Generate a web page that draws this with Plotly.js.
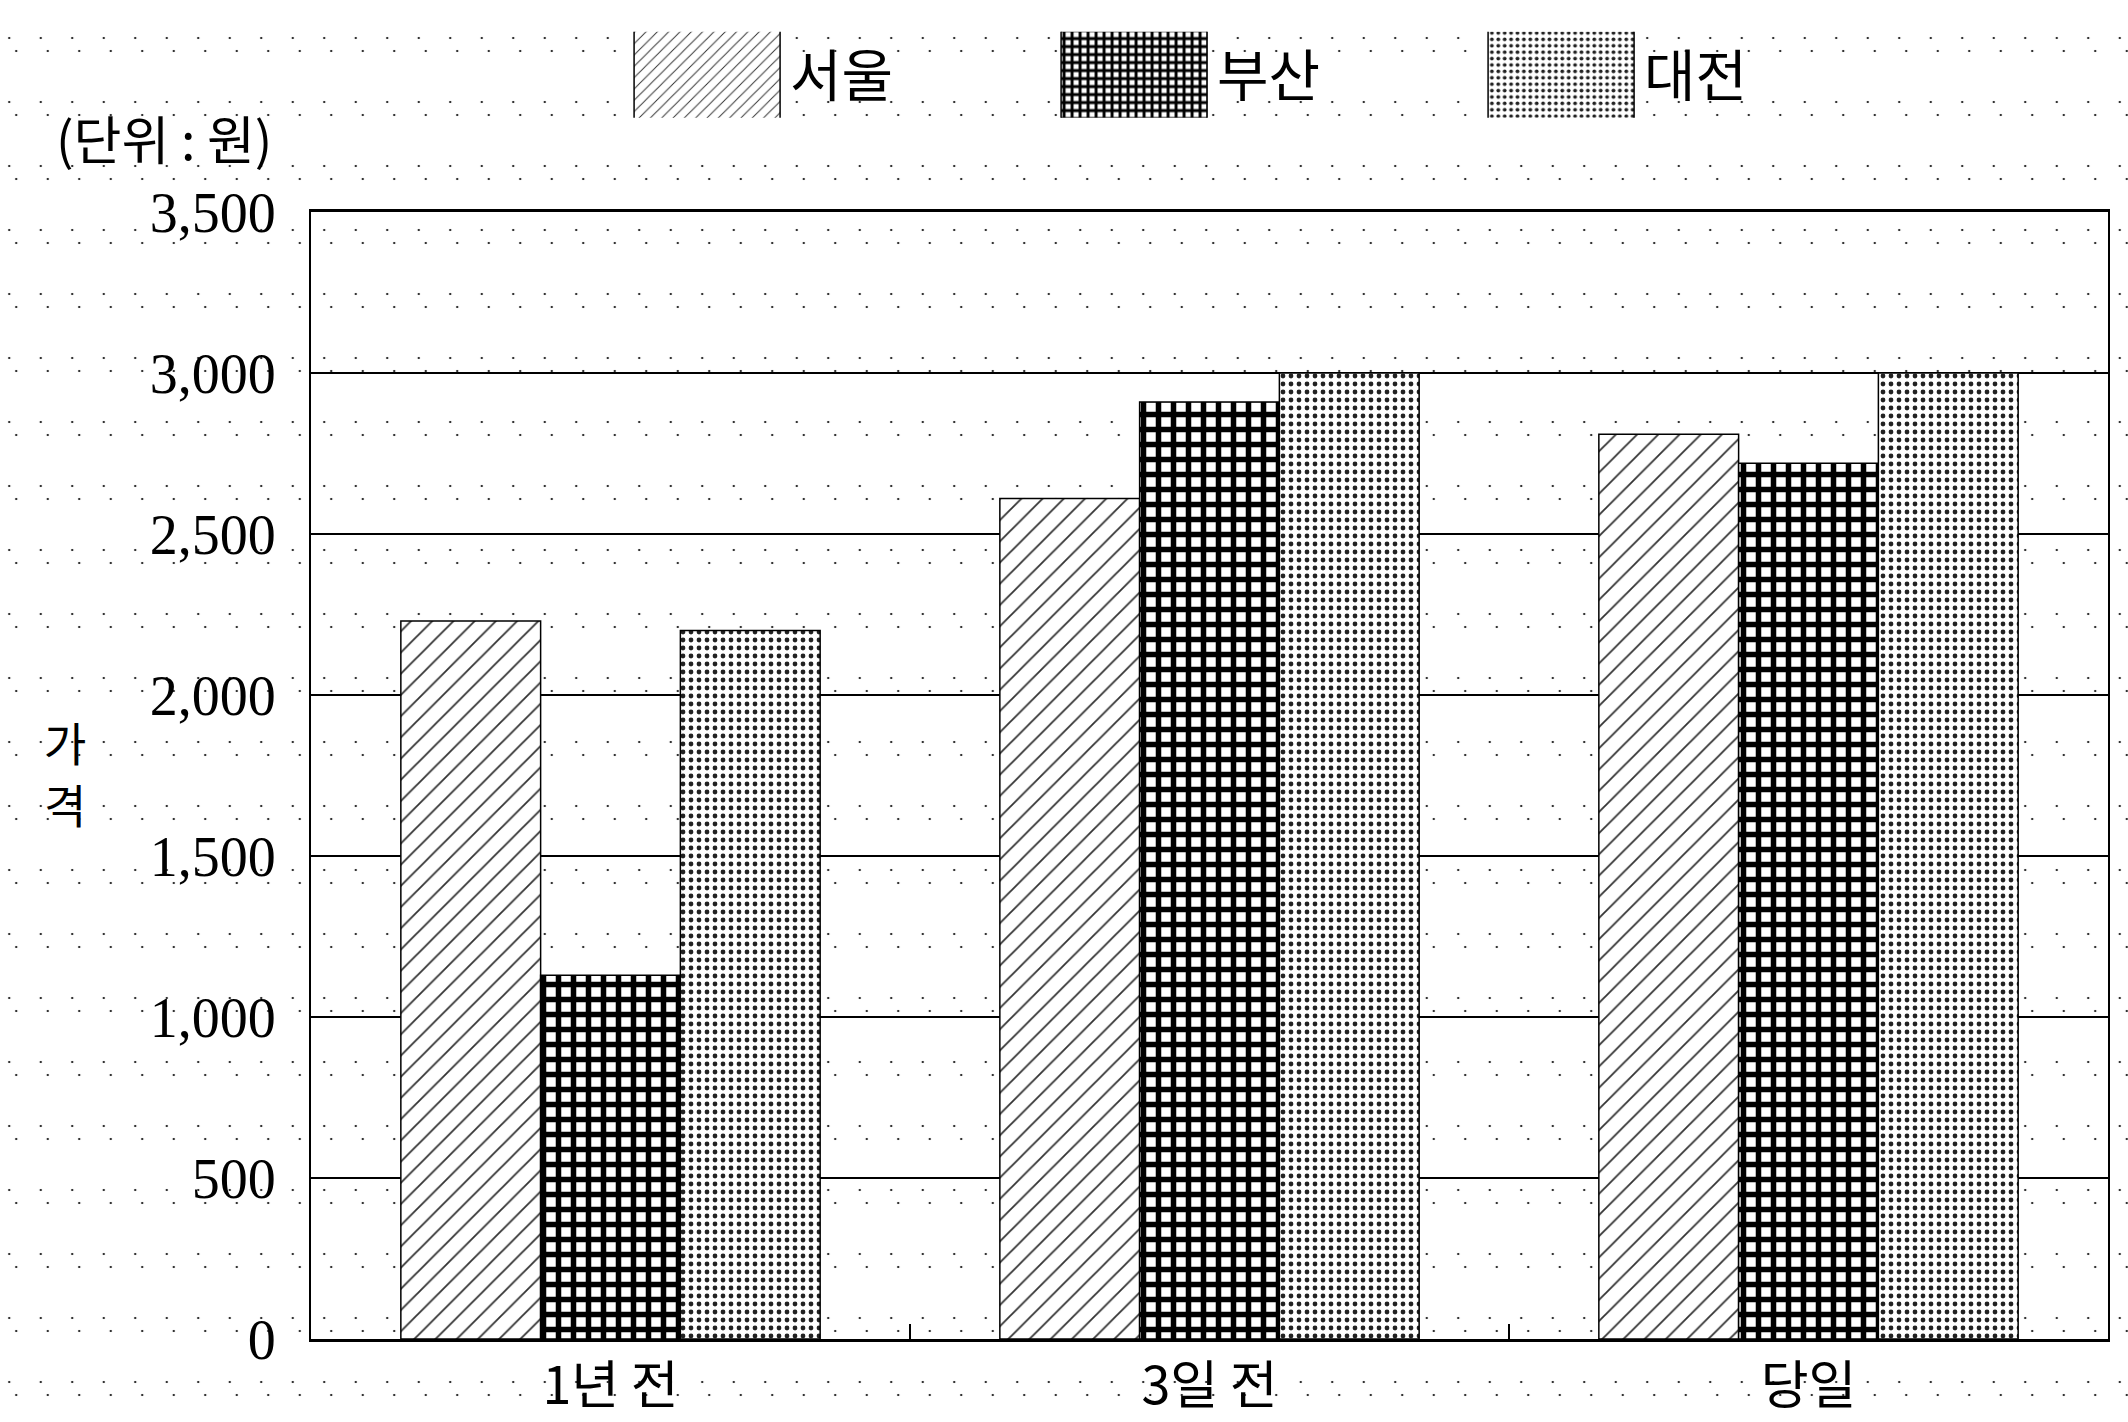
<!DOCTYPE html>
<html>
<head>
<meta charset="utf-8">
<script src="https://cdn.plot.ly/plotly-3.0.1.min.js"></script>
<style>
  html, body { margin: 0; padding: 0; width: 2128px; height: 1422px; overflow: hidden; }
  body {
    background-color: #ffffff;
    background-image:
      radial-gradient(circle, #333 0.9px, rgba(0,0,0,0) 1.6px),
      radial-gradient(circle, #333 0.9px, rgba(0,0,0,0) 1.6px);
    background-size: 31.5px 64px, 31.5px 64px;
    background-position: 25px 6px, 32px 19px;
  }
  #chart { width: 2128px; height: 1422px; }
</style>
</head>
<body>
<div id="chart"></div>
<script>
// ---- data ----
const categories = ['1년 전', '3일 전', '당일'];
const seriesNames = ['서울', '부산', '대전'];
const seoul = [2230, 2610, 2810];
const busan = [1130, 2910, 2720];
const daejeon = [2200, 3000, 3000];
const yTickVals = [0, 500, 1000, 1500, 2000, 2500, 3000, 3500];
const unitLabel = '(단위 : 원)';
const yTitleChars = ['가', '격'];

const serif = '"Liberation Serif", "DejaVu Serif", "Noto Sans CJK KR", serif';
const kr = '"Noto Sans CJK KR", "Liberation Serif", serif';

const patterns = [
  {shape: '/', size: 15, solidity: 0.12, fgcolor: '#333', bgcolor: '#ffffff'},
  {shape: '+', size: 15, solidity: 0.6, fgcolor: '#000', bgcolor: '#ffffff'},
  {shape: '.', size: 8, solidity: 0.28, fgcolor: '#222', bgcolor: '#ffffff'}
];
const values = [seoul, busan, daejeon];

const traces = seriesNames.map((name, i) => ({
  type: 'bar',
  name: name,
  x: categories,
  y: values[i],
  marker: {
    color: '#ffffff',
    pattern: patterns[i],
    line: {color: '#000', width: 1.5}
  },
  hoverinfo: 'x+y+name'
}));

const layout = {
  width: 2128,
  height: 1422,
  paper_bgcolor: 'rgba(0,0,0,0)',
  plot_bgcolor: 'rgba(0,0,0,0)',
  margin: {l: 311, r: 20, t: 212, b: 83},
  barmode: 'group',
  bargap: 0.3,
  bargroupgap: 0,
  showlegend: true,
  legend: {
    orientation: 'h',
    x: 0.172, xanchor: 'left',
    y: 1.16, yanchor: 'top',
    font: {family: kr, size: 56, color: '#000'},
    itemwidth: 160,
    entrywidth: 252,
    bgcolor: 'rgba(0,0,0,0)'
  },
  xaxis: {
    type: 'category',
    tickfont: {family: kr, size: 52, color: '#000'},
    ticks: 'inside',
    tickson: 'boundaries',
    ticklen: 15,
    tickwidth: 2,
    tickcolor: '#000',
    showline: true,
    linecolor: '#000',
    linewidth: 3,
    mirror: true,
    showgrid: false,
    zeroline: false
  },
  yaxis: {
    range: [0, 3500],
    tickvals: yTickVals,
    tickformat: ',',
    tickfont: {family: serif, size: 56, color: '#000'},
    ticks: '',
    ticklabelstandoff: 22,
    showline: true,
    linecolor: '#000',
    linewidth: 2,
    mirror: true,
    showgrid: true,
    gridcolor: '#000',
    gridwidth: 2,
    zeroline: false
  },
  annotations: [
    {
      xref: 'paper', yref: 'paper',
      x: -0.143, y: 1.066, xanchor: 'left', yanchor: 'middle',
      text: unitLabel, showarrow: false,
      font: {family: kr, size: 52, color: '#000'}
    },
    {
      xref: 'paper', yref: 'paper',
      x: -0.137, y: 0.531, xanchor: 'center', yanchor: 'middle',
      text: yTitleChars[0], showarrow: false,
      font: {family: kr, size: 46, color: '#000'}
    },
    {
      xref: 'paper', yref: 'paper',
      x: -0.137, y: 0.476, xanchor: 'center', yanchor: 'middle',
      text: yTitleChars[1], showarrow: false,
      font: {family: kr, size: 46, color: '#000'}
    }
  ]
};

Plotly.newPlot('chart', traces, layout, {displayModeBar: false, staticPlot: true}).then(gd => {
  gd.querySelectorAll('.legend .legendpoints path').forEach(p => {
    p.setAttribute('d', 'M-71,-45H75V45H-71Z');
  });
});
</script>
</body>
</html>
